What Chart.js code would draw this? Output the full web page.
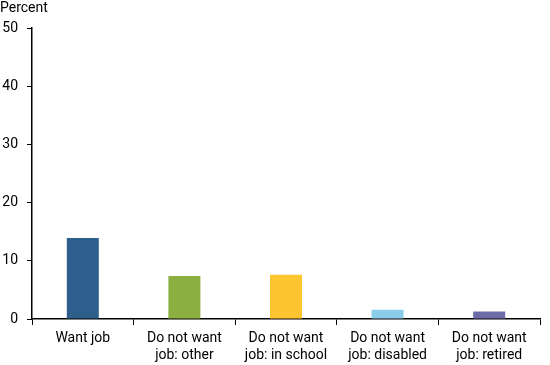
<!DOCTYPE html>
<html>
<head>
<meta charset="utf-8">
<script src="https://cdn.jsdelivr.net/npm/chart.js@4/dist/chart.umd.min.js"></script>
<style>
  html, body { margin: 0; padding: 0; background: #fff; }
  #wrap { width: 550px; height: 365px; position: relative; }
</style>
</head>
<body>
<div id="wrap"><canvas id="chart"></canvas></div>
<script>
const categories = [
  'Want job',
  ['Do not want', 'job: other'],
  ['Do not want', 'job: in school'],
  ['Do not want', 'job: disabled'],
  ['Do not want', 'job: retired'],
];
const values = [13.9, 7.4, 7.6, 1.6, 1.3];
const barColors = ['#2e5e8b', '#8baf40', '#fdc52f', '#8bcde8', '#6c6cab'];
const yTicks = [0, 10, 20, 30, 40, 50];

const font = { family: 'Roboto', size: 14 };

const unitLabel = {
  id: 'unitLabel',
  afterDraw(chart) {
    const ctx = chart.ctx;
    ctx.save();
    ctx.fillStyle = '#000';
    ctx.font = '14px Roboto';
    ctx.textBaseline = 'top';
    ctx.textAlign = 'left';
    ctx.fillText('Percent', 0, 1);
    ctx.restore();
  },
};

new Chart(document.getElementById('chart'), {
  type: 'bar',
  data: {
    labels: categories,
    datasets: [{
      data: values,
      backgroundColor: barColors,
      barPercentage: 0.315,
      categoryPercentage: 1,
    }],
  },
  options: {
    responsive: true,
    maintainAspectRatio: false,
    animation: false,
    layout: { padding: { top: 28, right: 10, left: 0, bottom: 0 } },
    plugins: {
      legend: { display: false },
      tooltip: { enabled: false },
    },
    scales: {
      x: {
        offset: true,
        grid: { offset: true, drawOnChartArea: false, drawTicks: true, tickLength: 6, color: '#000' },
        border: { color: '#000', width: 1.5 },
        ticks: { color: '#000', font, padding: 5, maxRotation: 0, autoSkip: false },
        afterFit(scale) { scale.height = 46; },
      },
      y: {
        min: 0,
        max: 50,
        afterBuildTicks(scale) { scale.ticks = yTicks.map((v) => ({ value: v })); },
        grid: { drawOnChartArea: false, drawTicks: true, tickLength: 5, color: '#000' },
        border: { color: '#000', width: 1.5 },
        ticks: { color: '#000', font, padding: 9 },
        afterFit(scale) { scale.width = 32; },
      },
    },
  },
  plugins: [unitLabel],
});
</script>
</body>
</html>
